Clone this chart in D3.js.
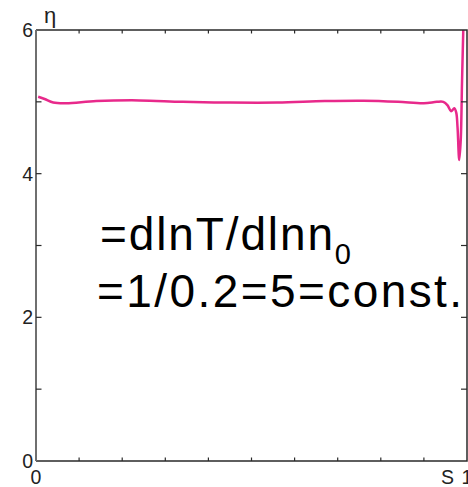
<!DOCTYPE html>
<html>
<head>
<meta charset="utf-8">
<script src="https://cdn.jsdelivr.net/npm/d3@7"></script>
<style>
    html, body { margin: 0; padding: 0; background: #fff; }
    svg { display: block; font-family: "Liberation Sans", Arial, sans-serif; }
</style>
</head>
<body>
<div id="chart"></div>
<script>
(function () {

    /* -----------------------------
       1. Data
    ------------------------------*/
    const sValues = [0.005, 0.02, 0.04, 0.07, 0.14, 0.24, 0.34, 0.45, 0.56, 0.67,
        0.76, 0.84, 0.9, 0.93, 0.945, 0.955, 0.963, 0.9705, 0.975, 0.978,
        0.982, 0.9855, 0.9884, 0.9914, 0.995];
    const etaValues = [5.07, 5.04, 4.99, 4.98, 5.01, 5.02, 5.0, 4.99, 4.99, 5.01,
        5.015, 5.0, 4.98, 5.0, 5.0, 4.95, 4.87, 4.91, 4.85, 4.65,
        4.19, 4.47, 5.26, 6.01, 6.6];
    const yTickLabels = [0, 2, 4, 6];
    const yTicks = [0, 1, 2, 3, 4, 5, 6];
    const xTicks = [0.1, 0.2, 0.3, 0.4, 0.5, 0.6, 0.7, 0.8, 0.9];

    /* -----------------------------
       2. SVG + scales
    ------------------------------*/
    const width = 468, height = 487;
    const svg = d3.select('#chart').append('svg')
        .attr('width', width)
        .attr('height', height);

    const x = d3.scaleLinear().domain([0, 1]).range([36, 467]);
    const y = d3.scaleLinear().domain([0, 6]).range([461, 30]);

    svg.append('clipPath').attr('id', 'plot-clip')
        .append('rect')
        .attr('x', x(0)).attr('y', y(6))
        .attr('width', x(1) - x(0)).attr('height', y(0) - y(6));

    /* -----------------------------
       3. Curve
    ------------------------------*/
    const points = sValues.map((s, i) => [s, etaValues[i]]);
    const line = d3.line()
        .x(d => x(d[0]))
        .y(d => y(d[1]))
        .curve(d3.curveCatmullRom.alpha(0.5));

    svg.append('path')
        .datum(points)
        .attr('clip-path', 'url(#plot-clip)')
        .attr('d', line)
        .attr('fill', 'none')
        .attr('stroke', '#e8298b')
        .attr('stroke-width', 2.5);

    /* -----------------------------
       4. Frame + ticks
    ------------------------------*/
    // top, right, bottom in dark; left axis a bit lighter
    svg.append('path')
        .attr('d', `M${x(0)},${y(6)}H${x(1)}V${y(0)}H${x(0)}`)
        .attr('fill', 'none')
        .attr('stroke', '#2a2a2a')
        .attr('stroke-width', 1.5);
    svg.append('line')
        .attr('x1', x(0)).attr('x2', x(0))
        .attr('y1', y(6)).attr('y2', y(0))
        .attr('stroke', '#6f6f6f')
        .attr('stroke-width', 2);

    const tickG = svg.append('g').attr('stroke', '#2a2a2a').attr('stroke-width', 1.2);
    xTicks.forEach(t => {
        tickG.append('line').attr('x1', x(t)).attr('x2', x(t)).attr('y1', y(0)).attr('y2', y(0) - 3.5);
        tickG.append('line').attr('x1', x(t)).attr('x2', x(t)).attr('y1', y(6)).attr('y2', y(6) + 3.5);
    });
    yTicks.slice(1, -1).forEach(t => {
        tickG.append('line').attr('x1', x(0)).attr('x2', x(0) + 5.5).attr('y1', y(t)).attr('y2', y(t));
        tickG.append('line').attr('x1', x(1)).attr('x2', x(1) - 6).attr('y1', y(t)).attr('y2', y(t));
    });

    /* -----------------------------
       5. Labels
    ------------------------------*/
    svg.selectAll('.ylab')
        .data(yTickLabels)
        .join('text')
        .attr('class', 'ylab')
        .attr('x', 33)
        .attr('y', d => y(d) + 7)
        .attr('text-anchor', 'end')
        .attr('font-size', 19.5)
        .attr('fill', '#222')
        .text(d => d);

    svg.append('text')
        .attr('x', x(0)).attr('y', 484)
        .attr('text-anchor', 'middle')
        .attr('font-size', 19.5).attr('fill', '#222')
        .text('0');
    svg.append('text')
        .attr('x', x(1)).attr('y', 484)
        .attr('text-anchor', 'middle')
        .attr('font-size', 19.5).attr('fill', '#222')
        .text('1');
    svg.append('text')
        .attr('x', 447.5).attr('y', 484)
        .attr('text-anchor', 'middle')
        .attr('font-size', 19.5).attr('fill', '#222')
        .text('S');

    svg.append('text')
        .attr('x', 44).attr('y', 23)
        .attr('font-size', 22).attr('fill', '#222')
        .text('η');

    // formula text
    const f1 = svg.append('text')
        .attr('x', 100).attr('y', 250)
        .attr('font-size', 46).attr('fill', '#000')
        .attr('textLength', 251)
        .attr('lengthAdjust', 'spacing');
    f1.append('tspan').text('=dlnT/dlnn');
    f1.append('tspan').attr('dy', 14).attr('font-size', 29).text('0');

    svg.append('text')
        .attr('x', 97).attr('y', 306.5)
        .attr('font-size', 46).attr('fill', '#000')
        .attr('textLength', 365)
        .attr('lengthAdjust', 'spacing')
        .text('=1/0.2=5=const.');

})();
</script>
</body>
</html>
